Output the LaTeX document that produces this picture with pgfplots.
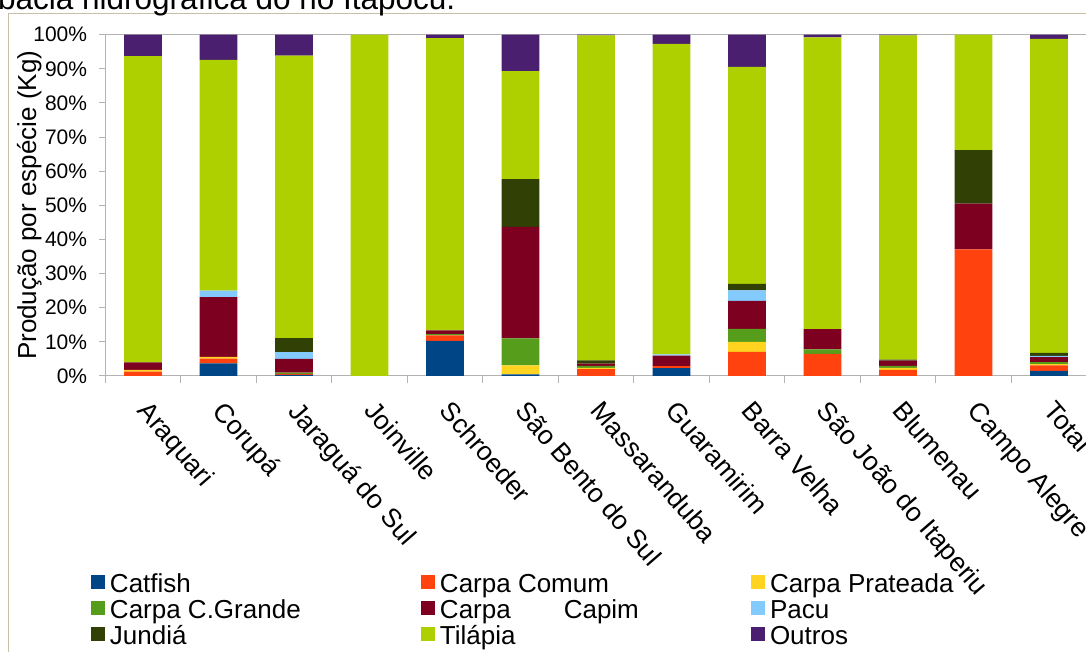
\documentclass[border=0pt]{standalone}
\usepackage{fontspec}
\setmainfont{Liberation Sans}
\usepackage{pgfplots}
\pgfplotsset{compat=1.18}
\usepackage{pgfplotstable}

\definecolor{cCatfish}{HTML}{004586}
\definecolor{cComum}{HTML}{FF420E}
\definecolor{cPrat}{HTML}{FFD320}
\definecolor{cGrande}{HTML}{579D1C}
\definecolor{cCapim}{HTML}{7E0021}
\definecolor{cPacu}{HTML}{83CAFF}
\definecolor{cJundia}{HTML}{314004}
\definecolor{cTilapia}{HTML}{AECF00}
\definecolor{cOutros}{HTML}{4B1F6F}
\definecolor{axgray}{HTML}{B3B3B3}
\definecolor{framec}{HTML}{C8BFA8}

\pgfplotstableread{
x catfish comum prat grande capim pacu jundia tilapia outros
0  0    1.3  0.5 0   2.2  0   0    89.7 6.3
1  3.7  1.4  0.5 0   17.5 1.9 0    67.6 7.4
2  0.3  0.3  0   0.4 4.0  2.0 4.1  82.8 6.1
3  0    0    0   0   0    0   0    100  0
4  10.3 1.6  0   0.4 1.1  0   0    85.6 1.0
5  0.5  0    2.6 7.9 32.7 0   14.0 31.6 10.7
6  0    2.0  0.4 0.6 0.6  0   1.0  95.2 0.2
7  2.3  0.6  0   0   3.1  0.3 0    91.0 2.7
8  0    7.1  2.9 3.8 8.2  3.1 1.9  63.6 9.4
9  0    6.5  0   1.3 5.9  0   0    85.5 0.8
10 0    1.8  0.6 0.6 1.5  0   0.3  95.0 0.2
11 0    37.1 0   0   13.4 0   15.7 33.8 0
12 1.5  1.6  0.4 0.6 1.4  0.4 0.9  92.0 1.2
}\data

\pgfplotsset{sqleg/.style={legend image code/.code={\fill[##1] (0pt,-8pt) rectangle (14pt,6pt);}}}
\newcommand\LE[1]{\makebox[306pt][l]{\rule[-4.8pt]{0pt}{29pt}#1}}

\begin{document}
\begin{tikzpicture}[x=1pt,y=1pt]
\useasboundingbox (0,0) rectangle (1086,652);
\clip (0,0) rectangle (1086,652);
\draw[framec, line width=1.5pt] (8.3,-5) -- (8.3,638.7) -- (1090,638.7);
\node[anchor=base west, inner sep=0pt, font=\fontsize{31.5}{36}\selectfont] at (-2,642.5) {bacia hidrográfica do rio Itapocu.};
\begin{axis}[
  at={(105.3pt,276pt)}, anchor=south west,
  width=981.4pt, height=341.3pt, scale only axis,
  ybar stacked, bar width=37.7pt,
  xmin=-0.5, xmax=12.5, ymin=0, ymax=100,
  axis line style={axgray, line width=1pt},
  tick style={axgray, line width=1pt},
  tick align=outside,
  xtick pos=bottom, ytick pos=left,
  xtick={0,...,12},
  xticklabels={Araquari,Corupá,Jaraguá do Sul,Joinville,Schroeder,São Bento do Sul,Massaranduba,Guaramirim,Barra Velha,São João do Itaperiu,Blumenau,Campo Alegre,Total},
  major x tick style={draw=none},
  minor xtick={-0.5,0.5,...,12.5},
  minor tick length=7pt,
  major tick length=6pt,
  ytick={0,10,...,100},
  yticklabels={0\%,10\%,20\%,30\%,40\%,50\%,60\%,70\%,80\%,90\%,100\%},
  yticklabel style={font=\fontsize{21}{25}\selectfont, anchor=east, inner sep=0pt, xshift=-12pt},
  xticklabel style={font=\fontsize{26.5}{30}\selectfont, xshift=8pt, yshift=-17pt, rotate=-49, anchor=north west, inner sep=0pt},
  ylabel={Produção por espécie (Kg)},
  every axis y label/.style={at={(axis description cs:-0.0706,0.5)}, rotate=90, anchor=base, font=\fontsize{26}{30}\selectfont},
  legend style={at={(-0.01457,-0.5640)}, anchor=north west, draw=none, fill=none, inner sep=0pt, outer sep=0pt, nodes={inner sep=0pt, outer sep=0pt}, column sep=5pt, row sep=0pt, font=\fontsize{26}{29}\selectfont},
  legend columns=3, legend cell align=left,
]
\addplot[fill=cCatfish, draw=none, sqleg] table[x=x,y=catfish]{\data};
\addlegendentry{\LE{Catfish}}
\addplot[fill=cComum, draw=none, sqleg] table[x=x,y=comum]{\data};
\addlegendentry{\LE{Carpa Comum}}
\addplot[fill=cPrat, draw=none, sqleg] table[x=x,y=prat]{\data};
\addlegendentry{\LE{Carpa Prateada}}
\addplot[fill=cGrande, draw=none, sqleg] table[x=x,y=grande]{\data};
\addlegendentry{\LE{Carpa C.Grande}}
\addplot[fill=cCapim, draw=none, sqleg] table[x=x,y=capim]{\data};
\addlegendentry{\LE{Carpa\hspace{53pt}Capim}}
\addplot[fill=cPacu, draw=none, sqleg] table[x=x,y=pacu]{\data};
\addlegendentry{\LE{Pacu}}
\addplot[fill=cJundia, draw=none, sqleg] table[x=x,y=jundia]{\data};
\addlegendentry{\LE{Jundiá}}
\addplot[fill=cTilapia, draw=none, sqleg] table[x=x,y=tilapia]{\data};
\addlegendentry{\LE{Tilápia}}
\addplot[fill=cOutros, draw=none, sqleg] table[x=x,y=outros]{\data};
\addlegendentry{\LE{Outros}}
\end{axis}
\end{tikzpicture}
\end{document}
